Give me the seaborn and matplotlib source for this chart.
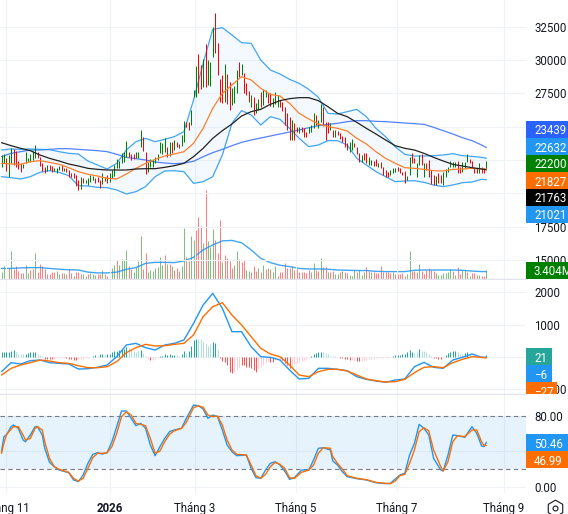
import matplotlib
matplotlib.use("Agg")
import matplotlib.pyplot as plt
from matplotlib.patches import Rectangle
import seaborn as sns

# Daily bars
candle_high = [
    22875, 22950, 22625, 22875, 23375, 23325, 23200, 22425, 22250, 22200,
    23125, 22625, 22950, 23200, 23625, 23125, 22700, 22300, 22000, 22125,
    22125, 22050, 21925, 21875, 22050, 22125, 21875, 21875, 21750, 21550,
    21500, 21375, 21000, 21200, 21125, 21000, 21125, 21375, 21325, 21125,
    21250, 21000, 21500, 21250, 21375, 21550, 21750, 22125, 22550, 22450,
    23050, 23125, 23925, 23125, 22950, 22950, 23125, 23125, 24750, 24200,
    23075, 22375, 22550, 22500, 22700, 22950, 23875, 23750, 24125, 23500,
    23825, 23875, 24000, 23825, 23700, 24375, 25450, 25375, 25375, 26250,
    27750, 29575, 30450, 29625, 30050, 31200, 30000, 29875, 32500, 33500,
    31250, 28575, 28875, 29700, 28950, 28375, 27925, 28050, 29250, 29875,
    29700, 29000, 28250, 27700, 27375, 27200, 26750, 27050, 27625, 27825,
    27750, 27500, 27550, 27125, 27575, 27375, 27000, 26875,
    26450, 26000, 25750, 25500, 25250, 25000, 25000, 25000, 24875, 24625, 24950, 25125,
    26050, 25875, 25500, 26675, 26500, 25375, 25375, 25250, 24750, 24750,
    24700, 24500, 24300, 24200, 23800, 23875, 24075, 23750, 23500, 23000,
    22875, 23000, 23050, 22750, 22500, 22425, 22550, 22250, 22325, 22000,
    21750, 21625, 21750, 21875, 21875, 22000, 21875, 21625, 21700, 21325,
    22750, 23000, 22625, 22250, 22875, 22950, 22250, 22250, 22500, 21750,
    21375, 21300, 21550, 21375, 21625, 21825, 22000, 22450, 22375, 22375,
    22450, 22000, 22375, 22375, 22925, 22575, 22425, 21925, 21875, 22250, 22000, 21875, 22425,
]
candle_low = [
    22000, 22250, 21700, 21250, 22250, 22125, 22000, 21825, 21625, 21875,
    22250, 22325, 22375, 22500, 22625, 22625, 22050, 21700, 21550, 21700,
    21750, 21625, 21700, 21500, 21750, 21700, 21700, 21625, 21200, 21200,
    21125, 20575, 20250, 20325, 20750, 20750, 20625, 20875, 21000, 20750,
    20875, 20375, 20700, 20925, 20800, 20875, 21125, 21300, 21875, 21925,
    22250, 22375, 22750, 22750, 22500, 22550, 22625, 22625, 23500, 23200,
    21450, 21625, 22000, 22000, 22250, 22500, 23000, 22950, 23125, 22750,
    22825, 23000, 23250, 23450, 23375, 23575, 23875, 25000, 24750, 25125,
    27250, 27250, 27500, 27800, 28000, 28000, 28125, 28050, 30250, 30500,
    28875, 26875, 26750, 26875, 26700, 26250, 26625, 26750, 27500, 28750,
    28875, 27500, 27375, 26875, 26500, 25875, 26000, 26250, 26500, 26625,
    27250, 26750, 26550, 26500, 26675, 26500, 26500, 26200,
    25125, 24750, 24000, 24000, 24000, 24625, 24500, 24625, 24200, 24200, 24500, 24625,
    24875, 25125, 24875, 25375, 25050, 24000, 24500, 24750, 24250, 24250,
    24375, 24050, 23875, 23500, 23250, 23125, 23250, 23500, 22925, 22375,
    22375, 22500, 22250, 22125, 22125, 22075, 22050, 22000, 21875, 21375,
    21250, 21200, 21375, 21500, 21625, 21700, 21500, 21375, 20800, 21000,
    21375, 22250, 22250, 21250, 22125, 22125, 21250, 21750, 21250, 20700,
    20625, 20625, 20800, 20750, 20625, 21250, 21625, 22000, 22000, 22000,
    21500, 21500, 21575, 21875, 22375, 22250, 22000, 21550, 21500, 21500, 21550, 21550, 21825,
]
candle_dir = (
    "ggrggrrrrg" "gggggrrrrg" "rrgggrgrrr" "rrrgrggggr" "rrgrrggggg"
    "gggrrrgggr" "rggggggggr" "grgrrggrrg" "ggrrgrgggr" "rrrgrrgggr"
    "grrrgrggrg" "grrgggrr" "rrrgrrgrrrgg" "grggrrrgrg" "rrrrrggrrr"
    "grrggrrgrr" "rrgggrrrrg" "grrggrgrrr" "rgrrgggggg" "rrgggrrrrgrrg"
)
volume_m = [
    2.5, 4.8, 3.5, 4.0, 10.6, 3.8, 4.8, 3.2, 2.3, 2.3,
    5.3, 2.3, 3.4, 3.8, 9.8, 2.8, 5.7, 4.8, 3.8, 1.9,
    1.9, 2.8, 2.5, 3.0, 1.9, 2.3, 2.1, 1.9, 3.8, 2.1,
    1.3, 2.8, 2.5, 1.9, 1.8, 1.0, 1.9, 2.1, 1.9, 1.5,
    1.9, 1.8, 3.4, 1.9, 1.3, 4.0, 4.0, 5.3, 7.3, 5.3,
    7.6, 7.3, 11.0, 4.8, 3.8, 2.8, 4.4, 6.9, 16.4, 3.8,
    9.8, 2.8, 3.4, 3.2, 4.0, 4.4, 8.2, 5.3, 9.1, 5.7,
    5.7, 4.8, 3.5, 4.2, 3.2, 4.8, 19.3, 8.2, 6.9, 16.1,
    14.7, 18.5, 23.3, 20.2, 13.6, 33.6, 14.2, 12.0, 18.9, 14.7,
    9.8, 22.4, 6.3, 9.1, 7.8, 6.9, 4.2, 5.3, 10.6, 7.6,
    6.3, 7.3, 3.5, 3.0, 2.5, 4.8, 3.2, 4.2, 2.8, 5.3,
    3.8, 4.2, 3.8, 2.5, 4.8, 1.3, 2.8, 2.8,
    5.9, 4.2, 4.2, 5.0, 3.5, 3.8, 2.8, 2.8, 2.8, 2.3, 3.4, 2.8,
    6.0, 3.5, 3.2, 7.8, 4.4, 4.4, 2.8, 2.8, 3.0, 1.9,
    1.9, 2.8, 3.2, 2.8, 2.3, 1.5, 1.0, 3.5, 2.5, 3.4,
    1.5, 2.5, 4.7, 3.2, 2.8, 2.8, 2.3, 2.3, 4.8, 2.8,
    2.5, 2.8, 2.3, 2.5, 1.9, 1.9, 2.0, 2.3, 1.3, 1.9,
    10.7, 3.2, 3.2, 2.8, 5.7, 3.2, 1.9, 3.5, 4.0, 3.5,
    3.2, 2.3, 1.5, 1.5, 2.3, 2.3, 2.5, 3.8, 3.2, 1.5,
    4.7, 1.9, 3.4, 3.5, 2.5, 1.3, 2.3, 2.3, 1.5, 1.6, 1.3, 1.3, 3.4,
]
volume_dir = (
    "ggrrgrrrrr" "ggrrgrrrrr" "rrrggrgrrr" "rrrrggrggg" "rrgrrgggrg"
    "gggrrggggr" "rgggggggrg" "rgrrrggrrg" "grrrgrgggr" "rrgrrrrggr"
    "rrggrrrgrg" "rgrggrrr" "rrrgrrrrrrrr" "grrgrrgrrg" "grgrrgggrg"
    "ggrrgrrrrr" "rrrgrrrrrg" "grrrgrrrrr" "rgggggggrg" "rrggrgrrrgrrg"
)
macd_hist = [
    150, 150, 150, 150, 180, 220, 150, 100, 80, 80,
    100, 120, 140, 140, 150, 100, 50, 30, -50, -50,
    -70, -70, -50, -30, -30, -20, -20, -30, -50, -70,
    -100, -100, -70, -60, -50, -30, -20, 10, 30, 50,
    30, 80, 80, 60, 80, 100, 140, 180, 200, 230,
    250, 250, 300, 280, 220, 200, 170, 180, 220, 120,
    20, -50, -100, -80, -60, -30, 20, 30, 80, 70,
    80, 70, 70, 50, 40, 100, 180, 120, 200, 350,
    520, 550, 570, 550, 450, 400, 350, 400, 450, 420,
    220, -30, -120, -150, -250, -450, -480, -450, -400, -300,
    -250, -250, -300, -300, -350, -400, -450, -350, -300, -250,
    -150, -120, -140, -150, -100, -100, -100, -100,
    -200, -250, -350, -280, -220, -180, -150, -120, -100, -50, -20, 20,
    80, 120, 140, 170, 150, 120, 80, 40, 30, 20,
    -10, -30, -40, -50, -70, -80, -90, -110, -130, -130,
    -120, -100, -80, -70, -60, -50, -40, -40, -40, -30,
    -30, -20, -10, 20, 50, 70, 70, 80, 80, 150,
    220, 150, 120, 150, 250, 200, 180, 150, 100, 30,
    -20, -40, -50, -50, -20, 70, 120, 150, 180, 180,
    140, 100, 80, 120, 150, 80, 40, 20, 10, -10, -20, -20, 50,
]
macd_cat = (
    "AAAAAABBBB" "AAAAABBBDD" "DDCCCCCDDD" "DDCCCCCAAA" "BAABAAAAAA"
    "AAABBBBBAB" "BCDCCCAAAA" "AAABBAABAA" "AABBBBBBAA" "BDDDDDDCCC"
    "DDDDDDDCCC" "CCDDCCCD" "DDDCCCCCCCCA" "AAAABBBBBB" "DDDDDDCCDD"
    "CCCCCCCCCC" "CCCAAAAAAA" "AABBABBBBB" "DDDDCAAAAA" "BBBAABBBBCCCA"
)

# Line studies, read every fourth bar plus the last one
line_bar = list(range(0, 201, 4)) + [202]
bb_upper = [
    23250, 23325, 23300, 23325, 23300, 23275, 23125, 23000, 22950, 22425, 22125, 21825, 22250,
    23250, 23875, 24125, 23875, 24050, 24250, 24625, 27000, 29750, 32300, 32425, 31875, 31300,
    31250, 30000, 29250, 28950, 28550, 28250, 27800, 27200, 26000, 25950, 26125, 26300, 25750,
    24875, 24250, 23500, 22925, 22800, 22800, 22825, 22875, 22975, 22825, 22775, 22700, 22632,
]
bb_lower = [
    21250, 21175, 21075, 21250, 21575, 21700, 21575, 21325, 20575, 20550, 20450, 20425, 20250,
    19950, 20125, 20500, 21250, 21675, 21700, 21625, 20750, 20875, 21250, 22875, 25250, 26200,
    25875, 25125, 25750, 25550, 24875, 24125, 23500, 23625, 23950, 23950, 23625, 22625, 22125,
    21625, 21250, 20875, 20925, 20950, 20825, 20625, 20500, 20625, 20800, 20850, 21050, 21021,
]
ma_fast = [
    22250, 22200, 22175, 22375, 22450, 22325, 22175, 21925, 21625, 21425, 21300, 21125, 21075,
    21450, 21875, 22250, 22550, 22800, 22950, 23125, 23750, 24875, 26375, 27500, 28125, 28750,
    28500, 27875, 27425, 27300, 26750, 26000, 25575, 25200, 25000, 24875, 24675, 24125, 23700,
    23125, 22625, 22250, 21925, 21875, 21800, 21700, 21675, 21800, 21825, 21875, 21825, 21827,
]
ma_mid = [
    23800, 23575, 23375, 23200, 22875, 22625, 22425, 22200, 22050, 21875, 21800, 21750, 21750,
    21750, 21825, 21850, 21850, 21950, 22075, 22250, 22750, 23375, 24125, 24700, 25200, 25800,
    26125, 26300, 26675, 26950, 27100, 27175, 27175, 26950, 26500, 26000, 25750, 25325, 24875,
    24450, 24000, 23575, 23375, 23250, 23000, 22700, 22425, 22175, 22050, 21925, 21825, 21763,
]
ma_slow = [
    22750, 23000, 23125, 23250, 23250, 23300, 23350, 23350, 23300, 23250, 23200, 23125, 22925,
    22700, 22600, 22500, 22350, 22275, 22225, 22275, 22400, 22750, 23050, 23300, 23575, 23825,
    24000, 24150, 24300, 24450, 24600, 24750, 24925, 25075, 25175, 25250, 25375, 25450, 25450,
    25400, 25375, 25325, 25275, 25225, 25175, 24950, 24700, 24450, 24175, 23950, 23625, 23439,
]
volume_ma = [
    4.0, 4.0, 4.2, 4.3, 4.3, 4.0, 3.7, 3.5, 3.4, 2.6, 2.3, 2.3, 2.6,
    3.7, 4.3, 5.9, 6.3, 6.3, 6.2, 6.8, 8.2, 11.0, 12.9, 14.4, 14.6, 13.7,
    11.0, 7.8, 6.2, 5.2, 4.7, 4.0, 3.8, 3.8, 3.7, 3.4, 3.3, 3.2, 3.2,
    2.9, 2.8, 2.8, 2.8, 3.3, 3.4, 3.4, 3.4, 3.4, 3.3, 3.0, 2.8, 2.8,
]
macd_line = [
    -453, -175, -216, -113, -93, -175, -196, -216, -371, -361, -319, -247, 10,
    371, 422, 288, 216, 371, 422, 525, 1040, 1607, 1967, 1504, 783, 783,
    319, 10, -10, -93, -402, -680, -659, -350, -350, -381, -422, -608, -690,
    -742, -783, -711, -680, -299, -165, -319, -350, -93, -10, 93, -10, -6,
]
macd_signal = [
    -556, -350, -247, -175, -93, -124, -175, -196, -268, -330, -330, -299, -144,
    134, 288, 391, 340, 350, 391, 422, 680, 1246, 1555, 1679, 1298, 989,
    628, 268, 93, 10, -247, -556, -608, -453, -381, -381, -433, -556, -680,
    -731, -773, -762, -690, -484, -319, -299, -330, -175, -72, 10, -10, -27,
]

# Stochastic has tighter turns, so it is read at its own bars
stoch_bar = [
    0, 1, 2, 4, 5, 7, 9, 10, 12, 14, 15, 17, 18, 20, 22, 24, 28, 30, 32, 34, 36, 38, 40, 42, 44, 46, 48, 50,
    52, 54, 56, 58, 60, 62, 64, 66, 68, 70, 72, 75, 77, 80, 82, 84, 86, 88, 90, 92, 94, 96, 98, 102, 104,
    106, 108, 110, 112, 114, 116,
    118, 120, 122, 125, 128, 130, 132, 134, 137, 138, 140, 142, 144, 148, 152, 156, 160, 162, 164, 166,
    168, 170, 172, 174, 176, 178, 180, 183, 184, 186, 188, 190, 193, 196, 198, 200, 201, 202,
]
stoch_k = [
    39.8, 56.8, 58.7, 68.2, 70.1, 66.3, 53.0, 51.1, 58.7, 68.2, 68.2, 58.7, 43.6, 27.7, 22.7, 18.9, 15.9, 7.6,
    5.7, 13.3, 26.5, 36.7, 38.6, 37.1, 38.6, 51.1, 68.2, 86.0, 86.0, 77.7, 69.3, 72.0, 66.3, 47.3, 35.2, 45.5,
    54.9, 62.5, 64.4, 66.3, 77.7, 92.8, 92.0, 88.3, 77.7, 81.4, 79.5, 64.4, 47.3, 39.8, 35.2, 36.0, 20.8, 10.2,
    9.5, 18.9, 26.5, 28.4, 24.6,
    17.8, 8.3, 10.2, 18.9, 18.9, 30.3, 43.6, 44.3, 41.7, 29.2, 24.6, 17.0, 11.4, 9.1, 7.6, 4.5, 3.4, 3.8, 8.7,
    13.3, 15.2, 36.0, 49.2, 70.8, 66.3, 58.7, 32.2, 18.9, 17.8, 36.0, 58.7, 58.0, 56.1, 68.2, 60.6, 46.2, 45.5,
    50.46,
]
stoch_d = [
    37.9, 49.2, 58.7, 65.5, 68.2, 68.2, 58.7, 53.0, 54.9, 66.3, 68.2, 64.4, 51.1, 32.2, 22.7, 19.7, 16.3, 9.5,
    6.4, 9.5, 20.8, 33.0, 37.9, 37.9, 38.6, 45.5, 60.6, 79.5, 85.2, 81.4, 72.0, 70.8, 69.3, 54.9, 37.9, 40.5,
    51.1, 59.5, 63.6, 66.3, 73.1, 89.8, 92.0, 90.2, 81.4, 79.5, 80.3, 70.1, 53.0, 41.7, 36.7, 36.0, 24.6, 12.5,
    9.5, 14.0, 22.7, 27.7, 25.4,
    20.8, 10.2, 9.5, 16.3, 18.9, 24.6, 37.9, 44.3, 43.6, 34.1, 26.5, 20.1, 12.5, 9.5, 8.0, 4.9, 3.8, 3.4, 6.4,
    12.5, 14.0, 26.5, 41.7, 62.5, 67.0, 63.3, 41.7, 22.7, 17.8, 28.4, 51.1, 58.0, 56.8, 64.4, 64.4, 51.1, 46.6,
    46.99,
]

tick_bars = [1.7, 45, 80.6, 122.6, 164.7, 209.3]
tick_names = ["Tháng 11", "2026", "Tháng 3", "Tháng 5", "Tháng 7", "Tháng 9"]
price_ticks = [15000, 17500, 20000, 22500, 25000, 27500, 30000, 32500]
macd_ticks = [-1000, 0, 1000, 2000]
stoch_ticks = [0, 40, 80]

sns.set_theme(style="white")
plt.rcParams["font.family"] = ["Roboto", "DejaVu Sans"]
plt.rcParams["font.size"] = 8.3

W, H = 568, 514
PLOT_W = 526
GRID = "#f0f3f6"
TEXT = "#131722"
BLUE = "#2196f3"
ORANGE = "#ff6d00"
bars = list(range(len(candle_high)))


def pane(top, bottom):
    return [0, 1 - bottom / H, PLOT_W / W, (bottom - top) / H]


fig = plt.figure(figsize=(W / 100, H / 100), dpi=100)
ax_vol = fig.add_axes(pane(0, 279))
ax_price = fig.add_axes(pane(0, 279))
ax_macd = fig.add_axes(pane(280, 394))
ax_stoch = fig.add_axes(pane(395, 493))
ax_price.set_zorder(2)
ax_price.patch.set_visible(False)

# -------------------------------
# VOLUME
# -------------------------------
vol_palette = {"g": "#7fbf7f", "r": "#ff8080"}
ax_vol.vlines(bars, 0, volume_m, colors=[vol_palette[d] for d in volume_dir], linewidth=0.75)
sns.lineplot(x=line_bar, y=volume_ma, color=BLUE, linewidth=1.0, alpha=0.85, ax=ax_vol)
ax_vol.set_ylim(0, 105.5)
ax_vol.set_yticks([])

# -------------------------------
# PRICE
# -------------------------------
ax_price.fill_between(line_bar, bb_lower, bb_upper, color=BLUE, alpha=0.05, linewidth=0)
sns.lineplot(x=line_bar, y=ma_slow, color="#2962ff", linewidth=0.9, alpha=0.8, ax=ax_price)
sns.lineplot(x=line_bar, y=bb_upper, color=BLUE, linewidth=0.9, alpha=0.85, ax=ax_price)
sns.lineplot(x=line_bar, y=bb_lower, color=BLUE, linewidth=0.9, alpha=0.85, ax=ax_price)
candle_palette = {"g": "#008000", "r": "#ff0000"}
ax_price.vlines(bars, candle_low, candle_high, colors=[candle_palette[d] for d in candle_dir], linewidth=0.72)
sns.lineplot(x=line_bar, y=ma_fast, color="#ff7f2a", linewidth=0.9, ax=ax_price)
sns.lineplot(x=line_bar, y=ma_mid, color="#222222", linewidth=0.9, ax=ax_price)
ax_price.set_ylim(13575, 34500)
ax_price.set_yticks(price_ticks)

# -------------------------------
# MACD
# -------------------------------
hist_palette = {"A": "#26a69a", "B": "#b2dfdb", "C": "#ffcdd2", "D": "#ff5252"}
ax_macd.vlines(bars, 0, macd_hist, colors=[hist_palette[c] for c in macd_cat], linewidth=0.75)
sns.lineplot(x=line_bar, y=macd_line, color=BLUE, linewidth=1.0, ax=ax_macd)
sns.lineplot(x=line_bar, y=macd_signal, color="#ff6d00", linewidth=1.0, ax=ax_macd)
ax_macd.set_ylim(-1143, 2379)
ax_macd.set_yticks(macd_ticks)

# -------------------------------
# STOCHASTIC
# -------------------------------
ax_stoch.axhspan(20, 80, color=BLUE, alpha=0.11, linewidth=0)
ax_stoch.axhline(80, color="#787b86", linewidth=0.8, dashes=(4, 3))
ax_stoch.axhline(20, color="#787b86", linewidth=0.8, dashes=(4, 3))
sns.lineplot(x=stoch_bar, y=stoch_k, color=BLUE, linewidth=1.0, ax=ax_stoch)
sns.lineplot(x=stoch_bar, y=stoch_d, color="#ff6d00", linewidth=1.0, ax=ax_stoch)
ax_stoch.set_ylim(-7.2, 104.2)
ax_stoch.set_yticks(stoch_ticks)
ax_stoch.set_yticklabels(["0.00", "40.00", "80.00"])

# shared styling for the panes
for ax in [ax_vol, ax_price, ax_macd, ax_stoch]:
    ax.set_xlim(-0.625, 218.5)
    ax.set_xticks(tick_bars)
    ax.set_xlabel("")
    ax.set_ylabel("")
    ax.yaxis.tick_right()
    ax.tick_params(axis="y", length=0, pad=5.8, labelcolor=TEXT, labelsize=8.3)
    ax.tick_params(axis="x", length=0, labelbottom=False)
    ax.grid(True, color=GRID, linewidth=0.8)
    ax.set_axisbelow(True)
    for side in ax.spines:
        ax.spines[side].set_visible(False)
for label in ax_price.get_yticklabels() + ax_macd.get_yticklabels() + ax_stoch.get_yticklabels():
    label.set_horizontalalignment("left")

for ax in [ax_vol, ax_macd]:
    ax.spines["bottom"].set_visible(True)
    ax.spines["bottom"].set_color("#e0e3eb")
    ax.spines["bottom"].set_linewidth(1.0)

ax_stoch.tick_params(axis="x", labelbottom=True, pad=6.5, labelsize=8.3, labelcolor=TEXT)
ax_stoch.set_xticklabels(tick_names)
ax_stoch.get_xticklabels()[1].set_fontweight("bold")

# -------------------------------
# LAST VALUE TAGS
# -------------------------------
overlay = fig.add_axes([0, 0, 1, 1], zorder=10)
overlay.set_xlim(0, W)
overlay.set_ylim(H, 0)
overlay.axis("off")


def value_tag(text, color, top, bottom, right=W, text_y=None, clip_bottom=None):
    overlay.add_patch(Rectangle((526, top), right - 526, bottom - top, color=color, linewidth=0))
    t = overlay.text(534, text_y if text_y else (top + bottom) / 2, text, color="white",
                     fontsize=8.3, va="center_baseline", ha="left")
    if clip_bottom:
        t.set_clip_path(Rectangle((526, top), right - 526, clip_bottom - top, transform=overlay.transData))


value_tag("23439", "#2962ff", 121, 138)
value_tag("22632", BLUE, 138, 155)
value_tag("22200", "#008000", 155, 172)
value_tag("21827", ORANGE, 172, 189)
value_tag("21763", "#000000", 189, 206)
value_tag("21021", BLUE, 206, 222.7)
value_tag("3.404M", "#008000", 261.7, 279)
value_tag("21", "#26a69a", 348, 365.3, right=551.7)
value_tag("−6", BLUE, 365.3, 382.3, right=551.7)
value_tag("−27", ORANGE, 382.3, 394, right=557.3, text_y=390.8, clip_bottom=394)
value_tag("50.46", BLUE, 434, 451)
value_tag("46.99", ORANGE, 451, 468.3)

# settings icon
overlay.plot([555], [507.5], marker="h", markersize=12, markerfacecolor="none",
             markeredgecolor=TEXT, markeredgewidth=0.8)
overlay.plot([555], [507.5], marker="o", markersize=3.5, markerfacecolor="none",
             markeredgecolor=TEXT, markeredgewidth=0.8)

fig.savefig("out.png", dpi=100)
